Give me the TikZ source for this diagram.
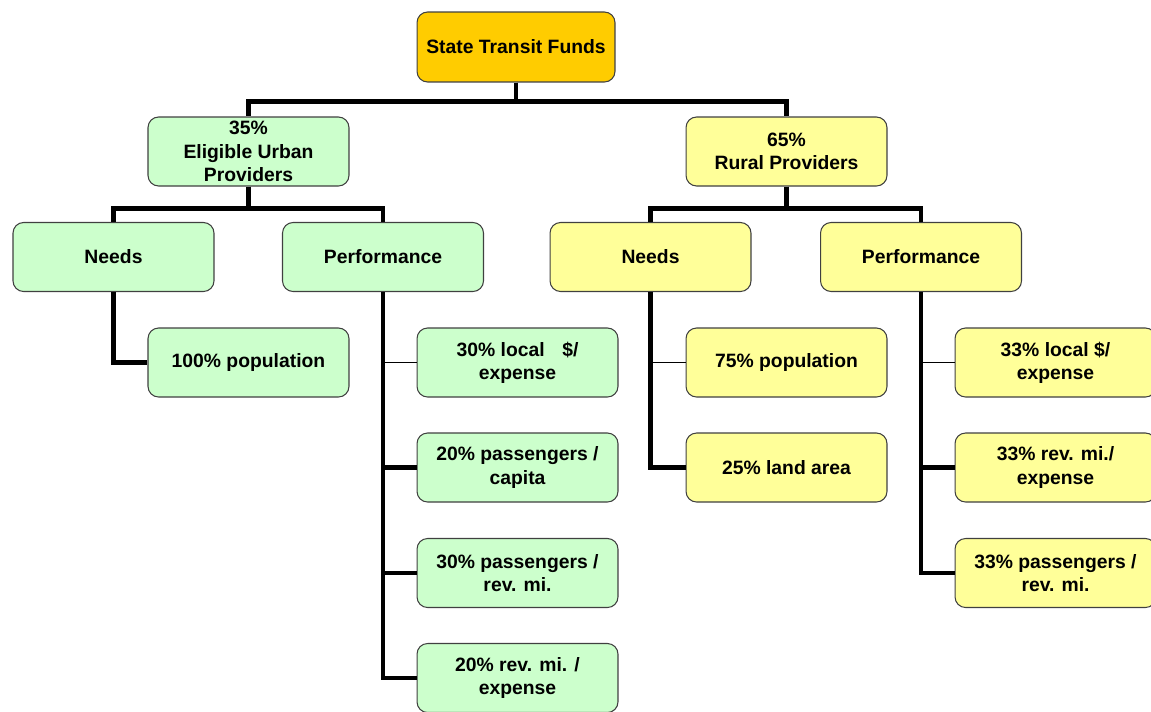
\documentclass[tikz,border=0pt]{standalone}
\usepackage{fontspec}
\setmainfont{Liberation Sans}
\usepackage{tikz}
\usetikzlibrary{positioning}
\definecolor{fundorange}{HTML}{FFCC00}
\definecolor{urbangreen}{HTML}{CCFFCC}
\definecolor{ruralyellow}{HTML}{FFFF99}
\tikzstyle{fundbox} = [draw=black!75, line width=0.6pt, rounded corners=6pt, minimum width=4.02cm, minimum height=1.38cm, align=center, inner sep=1pt, font=\fontsize{11}{13.2}\selectfont\bfseries]
\tikzstyle{rootbox} = [fundbox, fill=fundorange, minimum width=3.96cm, minimum height=1.40cm]
\tikzstyle{urbanbox} = [fundbox, fill=urbangreen]
\tikzstyle{ruralbox} = [fundbox, fill=ruralyellow]
\tikzstyle{fundlink} = [draw, line width=2.5pt]
\tikzstyle{fundlinkthin} = [draw, line width=1.1pt]
\newcommand{\forklink}[4]{% #1: parent; #2, #3: children; #4: drop to the bar
  \draw[fundlink] (#1.south) -- ++(0,#4) -| (#2.north);
  \draw[fundlink] (#1.south) -- ++(0,#4) -| (#3.north);
}
\newcommand{\sidelink}[3]{% #1: style; #2: parent; #3: child
  \draw[#1] (#2.south) |- (#3.west);
}

\begin{document}
\begin{tikzpicture}[x=0.02cm, y=-0.02cm]
        \useasboundingbox (0,0) rectangle (1151,711);
        % top
        \node[rootbox] (state) at (516,47) {State Transit Funds};
        \node[urbanbox] (urban) at (248.5,151.5) {35\%\\Eligible Urban\\Providers};
        \node[ruralbox] (rural) at (786.5,151.5) {65\%\\Rural Providers};
        % second level
        \node[urbanbox] (uneeds) at (113.5,257) {Needs};
        \node[urbanbox] (uperf) at (383,257) {Performance};
        \node[ruralbox] (rneeds) at (650.5,257) {Needs};
        \node[ruralbox] (rperf) at (921,257) {Performance};
        % urban factors
        \node[urbanbox] (upop) at (248.5,362.5) {100\% population};
        \node[urbanbox] (ulocal) at (517.5,362.5) {30\% local\hspace{10pt}\$/\\expense};
        \node[urbanbox] (ucap) at (517.5,467.5) {20\% passengers /\\capita};
        \node[urbanbox] (urev) at (517.5,573) {30\% passengers /\\rev. mi.};
        \node[urbanbox] (uexp) at (517.5,678) {20\% rev. mi. /\\expense};
        % rural factors
        \node[ruralbox] (rpop) at (786.5,362.5) {75\% population};
        \node[ruralbox] (rland) at (786.5,467.5) {25\% land area};
        \node[ruralbox] (rlocal) at (1055.5,362.5) {33\% local \$/\\expense};
        \node[ruralbox] (rrev) at (1055.5,467.5) {33\% rev. mi./\\expense};
        \node[ruralbox] (rpass) at (1055.5,573) {33\% passengers /\\rev. mi.};
        % links
        \forklink{state}{urban}{rural}{19}
        \forklink{urban}{uneeds}{uperf}{22}
        \forklink{rural}{rneeds}{rperf}{22}
        \sidelink{fundlink}{uneeds}{upop}
        \sidelink{fundlinkthin}{uperf}{ulocal}
        \foreach \x in {ucap,urev,uexp} { \sidelink{fundlink}{uperf}{\x}}
        \sidelink{fundlinkthin}{rneeds}{rpop}
        \sidelink{fundlink}{rneeds}{rland}
        \sidelink{fundlinkthin}{rperf}{rlocal}
        \foreach \x in {rrev,rpass} { \sidelink{fundlink}{rperf}{\x}}
      \end{tikzpicture}
\end{document}
